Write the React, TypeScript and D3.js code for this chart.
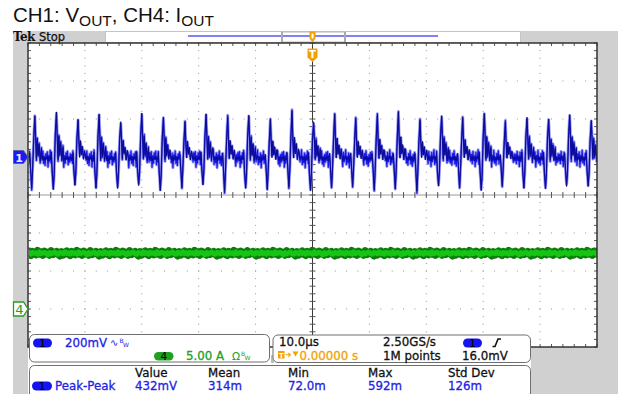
import React from "react";
import * as d3 from "d3";

const W = 618;
const H = 394;

// ---- data ----
const timeDomainUs = [-50, 50]; // 10.0 µs/div, 10 divisions
const ch1DomainMv = [-1000, 600]; // 200 mV/div, ground marker 1 div above centre
const ch4DomainA = [-5, 35]; // 5.00 A/div, ground marker 3 div below centre

const peakTimesUs = [
  -48.8, -45.0, -41.2, -37.5, -33.7, -30.0, -26.2, -22.4, -18.7, -14.9, -11.2, -7.4, -3.6, 0.2,
  3.9, 7.6, 11.4, 15.1, 18.9, 22.7, 26.4, 30.2, 33.9, 37.7, 41.5, 45.2, 49.0,
];
const peakMv = [
  215, 240, 200, 225, 190, 235, 210, 185, 230, 205, 220, 195, 240, 190, 225, 200, 215, 235, 190,
  220, 205, 230, 180, 215, 200, 225, 195,
];
const dipMv = [
  -160, -175, -150, -165, -170, -155, -180, -160, -150, -175, -165, -170, -155, -180, -160, -150,
  -170, -165, -175, -155, -160, -180, -150, -165, -170, -160, -155,
];
// shape of one switching event, relative to its peak
const templateDtUs = [-0.9, -0.75, -0.55, -0.4, -0.2, 0, 0.12, 0.28, 0.42, 0.58, 0.75, 0.95, 1.15];
const templateFrac = [0.1, -0.4, -1.0, -0.5, 0.45, 1.0, 0.5, -0.05, 0.45, 0.05, 0.3, -0.1, 0.2];
const ch1BaselineMv = -8;
const rippleMv = [
  18, -22, 31, -9, 12, -35, 27, -14, 5, 38, -26, 9, -18, 24, -40, 16, -7, 33, -21, 11, -30, 20, -3,
  29, -37, 14, -12, 36, -19, 7, -28, 22, -6, 34, -24, 10, -33, 17, -15, 26, -8, 30, -38, 13, -20,
  25, -4, 32, -27, 8, -16, 21, -11,
];
const ch4LevelA = 7.35;
const ch4NoiseA = [
  0.12, -0.18, 0.05, 0.22, -0.1, -0.25, 0.15, 0.02, -0.14, 0.28, -0.06, 0.1, -0.22, 0.18, -0.03,
  0.08, -0.2, 0.25, -0.12, 0.04, 0.16, -0.08, -0.3,
];

const measureHeaders = ["Value", "Mean", "Min", "Max", "Std Dev"];
const measureValues = ["432mV", "314m", "72.0m", "592m", "126m"];

// ---- layout ----
const X0 = 28;
const X1 = 597;
const Y0 = 43;
const Y1 = 347;

const FONT = "DejaVu Sans, Verdana, sans-serif";
const BLUE_TXT = "#2323e6";
const GREEN_TXT = "#22a022";
const ORANGE = "#f2a100";

export default function App() {
  const x = d3.scaleLinear().domain(timeDomainUs).range([X0, X1]);
  const gy = d3.scaleLinear().domain([-4, 4]).range([Y1, Y0]);
  const y1 = d3.scaleLinear().domain(ch1DomainMv).range([Y1, Y0]);
  const y4 = d3.scaleLinear().domain(ch4DomainA).range([Y1, Y0]);

  // build CH1 series
  type P = { t: number; base: number; r: number };
  const pts: P[] = [];
  let j = 0;
  const step = 0.13;
  let t = timeDomainUs[0];
  peakTimesUs.forEach((tk, k) => {
    const start = tk + templateDtUs[0];
    while (t < start) {
      pts.push({ t, base: ch1BaselineMv, r: 1.2 * rippleMv[j++ % rippleMv.length] });
      t += step;
    }
    templateDtUs.forEach((dt, m) => {
      const f = templateFrac[m];
      const v = f >= 0 ? f * peakMv[k] : -f * dipMv[k];
      pts.push({ t: tk + dt, base: v, r: 0.4 * rippleMv[j++ % rippleMv.length] });
    });
    t = tk + templateDtUs[templateDtUs.length - 1] + step;
  });
  while (t <= timeDomainUs[1] + 1) {
    pts.push({ t, base: ch1BaselineMv, r: 1.2 * rippleMv[j++ % rippleMv.length] });
    t += step;
  }
  const lineFull = d3
    .line<P>()
    .x((d) => x(d.t))
    .y((d) => y1(d.base + d.r))(pts) as string;
  const lineCore = d3
    .line<P>()
    .x((d) => x(d.t))
    .y((d) => y1(d.base + 0.3 * d.r))(pts) as string;

  // CH4 series
  const g4: [number, number][] = [];
  let i4 = 0;
  for (let tt = timeDomainUs[0] - 1; tt <= timeDomainUs[1] + 1; tt += 0.3) {
    g4.push([tt, ch4LevelA + ch4NoiseA[i4++ % ch4NoiseA.length]]);
  }
  const g4b: [number, number][] = g4.map((d, i) => [d[0], ch4LevelA + 0.6 * ch4NoiseA[(i + 7) % ch4NoiseA.length]]);
  const line4 = d3
    .line<[number, number]>()
    .x((d) => x(d[0]))
    .y((d) => y4(d[1]));

  const majorX = d3.range(-40, 41, 10).filter((v) => v !== 0);
  const minorX = d3.range(-50, 50.01, 2);
  const majorY = d3.range(-3, 4, 1).filter((v) => v !== 0);
  const minorY = d3.range(-4, 4.001, 0.2);

  const dots: JSX.Element[] = [];
  majorX.forEach((mx) =>
    minorY.forEach((my, i) =>
      dots.push(<rect key={`v${mx}_${i}`} x={x(mx) - 0.5} y={gy(my) - 0.5} width={1} height={1} fill="#939393" />)
    )
  );
  majorY.forEach((my) =>
    minorX.forEach((mx, i) =>
      dots.push(<rect key={`h${my}_${i}`} x={x(mx) - 0.5} y={gy(my) - 0.5} width={1} height={1} fill="#939393" />)
    )
  );

  const ticks: JSX.Element[] = [];
  minorX.forEach((mx, i) => {
    const px = x(mx);
    ticks.push(<line key={`tt${i}`} x1={px} x2={px} y1={Y0} y2={Y0 + 3} />);
    ticks.push(<line key={`tb${i}`} x1={px} x2={px} y1={Y1 - 3} y2={Y1} />);
    ticks.push(<line key={`tc${i}`} x1={px} x2={px} y1={gy(0) - 3} y2={gy(0) + 3} />);
  });
  minorY.forEach((my, i) => {
    const py = gy(my);
    ticks.push(<line key={`tl${i}`} x1={X0} x2={X0 + 3} y1={py} y2={py} />);
    ticks.push(<line key={`tr${i}`} x1={X1 - 3} x2={X1} y1={py} y2={py} />);
    ticks.push(<line key={`tv${i}`} x1={x(0) - 3} x2={x(0) + 3} y1={py} y2={py} />);
  });

  const cx = x(0);
  const ch1Y = y1(0);
  const ch4Y = y4(0);
  const measX = [135, 208, 288, 368, 448];

  return (
    <svg width={W} height={H} style={{ position: "absolute", left: 0, top: 0, display: "block" }}>
      <rect x={0} y={0} width={W} height={H} fill="#ffffff" />
      {/* title */}
      <text x={13} y={22} fontFamily="Liberation Sans, Arial, sans-serif" fontSize={20.5} fill="#111">
        CH1: V
        <tspan fontSize={15.5} dy={4}>
          OUT
        </tspan>
        <tspan dy={-4}>, CH4: I</tspan>
        <tspan fontSize={15.5} dy={4}>
          OUT
        </tspan>
      </text>

      {/* frame background */}
      <rect x={13} y={31} width={15} height={H - 31} fill="#d0d0d0" />
      <rect x={13} y={31} width={92} height={12} fill="#d0d0d0" />
      <rect x={521} y={31} width={W - 521} height={12} fill="#d0d0d0" />
      <rect x={X1} y={Y0} width={W - X1} height={H - Y0} fill="#d0d0d0" />
      <rect x={531} y={Y1} width={W - 531} height={H - Y1} fill="#d0d0d0" />
      <rect x={105.5} y={31.5} width={415} height={11} fill="#fff" stroke="#c4c4c4" />
      <text x={13} y={40.5} fontFamily="DejaVu Serif, serif" fontWeight="bold" fontSize={12} fill="#111" letterSpacing={-0.6}>
        Tek
      </text>
      <text x={39} y={40.5} fontFamily={FONT} fontSize={11.5} fill="#111" stroke="#111" strokeWidth={0.25}>
        Stop
      </text>
      {/* record view bar */}
      <line x1={188} x2={438} y1={36} y2={36} stroke="#5757ee" strokeWidth={1.5} />
      <rect x={282} y={32} width={63} height={10} fill="none" stroke="#b8b8b8" strokeWidth={1} />
      <rect x={281} y={32} width={2} height={10} fill="#aaaaaa" />
      <rect x={344} y={32} width={2} height={10} fill="#aaaaaa" />
      <path d={`M${cx - 3},31.5 h6 v7 l-3,4 l-3,-4 z`} fill={ORANGE} />
      <rect x={cx - 1} y={33.5} width={2} height={5} fill="#fff" />

      {/* graticule */}
      {dots}
      <line x1={X0} x2={X1} y1={gy(0)} y2={gy(0)} stroke="#9c9c9c" strokeWidth={1.2} />
      <line x1={cx} x2={cx} y1={Y0} y2={Y1} stroke="#3a3a3a" strokeWidth={1} />
      <g stroke="#555" strokeWidth={1}>{ticks}</g>

      {/* traces */}
      <defs>
        <clipPath id="plotClip">
          <rect x={X0 + 1} y={Y0} width={X1 - X0 - 1} height={Y1 - Y0} />
        </clipPath>
      </defs>
      <g clipPath="url(#plotClip)" fill="none" strokeLinejoin="round">
        <path d={line4(g4) as string} stroke="#0c7d0c" strokeWidth={8} />
        <path d={line4(g4b) as string} stroke="#16c416" strokeWidth={5} />
        <path d={lineFull} stroke="#9b9be9" strokeWidth={3} />
        <path d={lineFull} stroke="#1616ee" strokeWidth={1.2} />
        <path d={lineCore} stroke="#0a0a88" strokeWidth={0.9} />
      </g>

      {/* border */}
      <rect x={X0} y={Y0} width={X1 - X0} height={Y1 - Y0} fill="none" stroke="#333" strokeWidth={1.5} />

      {/* trigger position marker */}
      <path d={`M${cx - 5},48.5 h10 v9 l-5,4.5 l-5,-4.5 z`} fill={ORANGE} />
      <text x={cx} y={58} textAnchor="middle" fontFamily={FONT} fontWeight="bold" fontSize={10} fill="#fff">
        T
      </text>

      {/* channel markers */}
      <path d={`M13.5,${ch1Y - 6.5} h10 l4.5,6.5 l-4.5,6.5 h-10 z`} fill="#1a1af5" stroke="#5a5a9a" strokeWidth={0.8} />
      <text x={19} y={ch1Y + 4.5} textAnchor="middle" fontFamily={FONT} fontWeight="bold" fontSize={11} fill="#e8e8ff">
        1
      </text>
      <path d={`M13.5,${ch4Y - 7} h10 l4.5,7 l-4.5,7 h-10 z`} fill="#fff" stroke="#22a022" strokeWidth={1.3} />
      <text x={19.5} y={ch4Y + 5} textAnchor="middle" fontFamily={FONT} fontSize={13} fill="#22a022">
        4
      </text>

      {/* panels */}
      <rect x={271} y={355} width={3} height={8} fill="#bdbdbd" />
      <rect x={29.5} y={334.5} width={240} height={27.5} rx={5} fill="#fff" stroke="#6e6e6e" />
      <rect x={273} y={335} width={257.5} height={27.5} rx={5} fill="#fff" stroke="#6e6e6e" />
      <rect x={29.5} y={365.5} width={501} height={34} rx={5} fill="#fff" stroke="#6e6e6e" />

      <g fontFamily={FONT} fontSize={11.8} strokeWidth={0.3}>
        {/* panel 1 */}
        <rect x={33} y={338.5} width={19} height={9} rx={4.5} fill="#1414f0" />
        <text x={42.5} y={346.5} textAnchor="middle" fill="#000" fontSize={10.5}>
          1
        </text>
        <text x={65} y={346.5} fill={BLUE_TXT} stroke={BLUE_TXT}>
          200mV
        </text>
        <text x={110} y={345.5} fill={BLUE_TXT} fontSize={10}>
          ∿
        </text>
        <text x={119.5} y={342.5} fill={BLUE_TXT} fontSize={6}>
          B
        </text>
        <text x={123} y={346.5} fill={BLUE_TXT} fontSize={6}>
          W
        </text>
        <rect x={154} y={352} width={19.5} height={8.5} rx={4.2} fill="#20a020" />
        <text x={163.8} y={360} textAnchor="middle" fill="#000" fontSize={10.5}>
          4
        </text>
        <text x={186} y={360} fill={GREEN_TXT} stroke={GREEN_TXT}>
          5.00 A
        </text>
        <text x={232} y={360} fill={GREEN_TXT} fontSize={10.5}>
          Ω
        </text>
        <text x={241} y={356} fill={GREEN_TXT} fontSize={6}>
          B
        </text>
        <text x={244.5} y={360} fill={GREEN_TXT} fontSize={6}>
          W
        </text>

        {/* panel 2 */}
        <text x={279} y={346} fill="#111" stroke="#111">
          10.0µs
        </text>
        <text x={383} y={346} fill="#111" stroke="#111">
          2.50GS/s
        </text>
        <rect x={463} y={338.5} width={19} height={9} rx={4.5} fill="#1414f0" />
        <text x={472.5} y={346.5} textAnchor="middle" fill="#000" fontSize={10.5}>
          1
        </text>
        <path d="M492.5,346.5 h2.5 l3,-7.5 h3" fill="none" stroke="#111" strokeWidth={1.6} />
        <rect x={278} y={351} width={6.5} height={7.5} fill={ORANGE} />
        <text x={281.3} y={357.5} textAnchor="middle" fill="#fff" fontSize={7} fontWeight="bold">
          T
        </text>
        <path d="M285.5,354.8 h4.5 M288.3,352.8 l2,2 l-2,2" fill="none" stroke={ORANGE} strokeWidth={1.1} />
        <path d="M292.5,351.5 h6 l-3,5 z" fill={ORANGE} />
        <text x={299.5} y={360} fill={ORANGE} stroke={ORANGE}>
          0.00000 s
        </text>
        <text x={383} y={360} fill="#111" stroke="#111">
          1M points
        </text>
        <text x={462} y={360} fill="#111" stroke="#111">
          16.0mV
        </text>

        {/* panel 3 */}
        {measureHeaders.map((h, i) => (
          <text key={h} x={measX[i]} y={377} fill="#111" stroke="#111">
            {h}
          </text>
        ))}
        <rect x={32} y={381.5} width={20} height={9} rx={4.5} fill="#1414f0" />
        <text x={42} y={389.8} textAnchor="middle" fill="#000" fontSize={10.5}>
          1
        </text>
        <text x={55} y={390} fill={BLUE_TXT} stroke={BLUE_TXT}>
          Peak-Peak
        </text>
        {measureValues.map((v, i) => (
          <text key={v} x={measX[i]} y={390} fill={BLUE_TXT} stroke={BLUE_TXT}>
            {v}
          </text>
        ))}
      </g>
    </svg>
  );
}
